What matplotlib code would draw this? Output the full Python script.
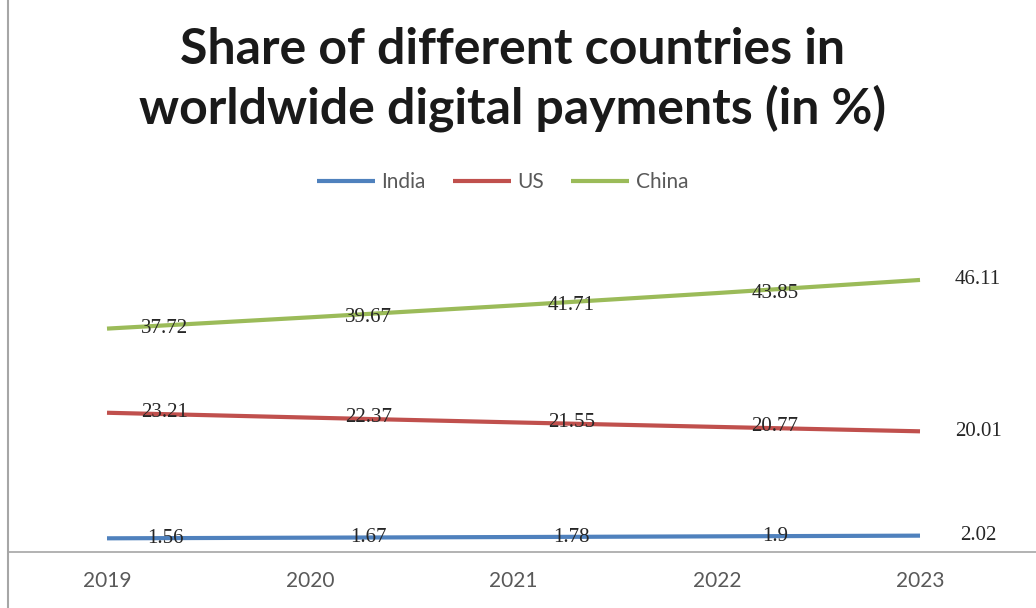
import matplotlib.pyplot as plt
from matplotlib.lines import Line2D

# 各国在全球数字支付中的份额 (%)
years = ['2019', '2020', '2021', '2022', '2023']
india = [1.56, 1.67, 1.78, 1.9, 2.02]
us = [23.21, 22.37, 21.55, 20.77, 20.01]
china = [37.72, 39.67, 41.71, 43.85, 46.11]

series = [('India', india, '#4F81BD'),
          ('US', us, '#C0504D'),
          ('China', china, '#9BBB59')]

fig = plt.figure(figsize=(10.36, 6.08), dpi=100)
ax = fig.add_axes([8 / 1036, 56 / 608, 1028 / 1036, 312 / 608])

x = list(range(len(years)))
for name, vals, color in series:
    ax.plot(x, vals, color=color, lw=3, label=name, solid_capstyle='butt')
    for i, v in enumerate(vals):
        ax.annotate('%g' % v, (i, v), xytext=(58, 0), textcoords='offset pixels',
                    ha='center', va='center', fontsize=15, color='#262626',
                    family='Liberation Serif', zorder=5)

ax.set_xlim(-99 / 203.25, 4 + 116 / 203.25)
ax.set_ylim(-0.8, 53)
ax.set_xticks(x)
ax.set_xticklabels(years, fontsize=15, color='#595959', family='Lato')
ax.tick_params(axis='x', length=0, pad=14)
ax.set_yticks([])
for s in ['top', 'right', 'left']:
    ax.spines[s].set_visible(False)
ax.spines['bottom'].set_color('#A6A6A6')
ax.spines['bottom'].set_linewidth(1.2)

# 左侧竖线
fig.add_artist(Line2D([8 / 1036, 8 / 1036], [0, 1], color='#A6A6A6', lw=1.5))

fig.text(0.495, 1 - 50 / 608, 'Share of different countries in', ha='center', va='center',
         fontsize=36, fontweight='bold', family='Lato', color='#1a1a1a')
fig.text(0.495, 1 - 108 / 608, 'worldwide digital payments (in %)', ha='center', va='center',
         fontsize=36, fontweight='bold', family='Lato', color='#1a1a1a')

leg = fig.legend(loc='center', bbox_to_anchor=(0.485, 1 - 182 / 608), ncol=3, frameon=False,
                 handlelength=2.8, handletextpad=0.3, columnspacing=1.3,
                 prop={'family': 'Lato', 'size': 15})
for t in leg.get_texts():
    t.set_color('#595959')

fig.savefig('out.png', dpi=100, facecolor='white')
